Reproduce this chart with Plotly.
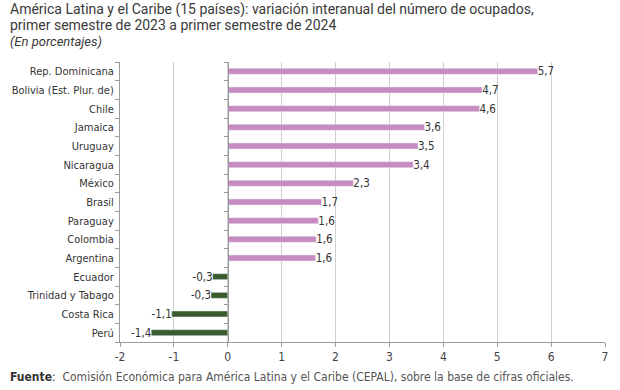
import plotly.graph_objects as go

countries = ["Rep. Dominicana", "Bolivia (Est. Plur. de)", "Chile", "Jamaica", "Uruguay",
             "Nicaragua", "México", "Brasil", "Paraguay", "Colombia", "Argentina",
             "Ecuador", "Trinidad y Tabago", "Costa Rica", "Perú"]
values = [5.75, 4.72, 4.67, 3.65, 3.53, 3.44, 2.33, 1.74, 1.68, 1.64, 1.63,
          -0.28, -0.31, -1.04, -1.42]
value_labels = ["5,7", "4,7", "4,6", "3,6", "3,5", "3,4", "2,3", "1,7", "1,6", "1,6", "1,6",
                "-0,3", "-0,3", "-1,1", "-1,4"]
x_ticks = [-2, -1, 0, 1, 2, 3, 4, 5, 6, 7]

PINK = "#c98ac1"
GREEN = "#3b5a2d"
colors = [PINK if v >= 0 else GREEN for v in values]

W, H = 620, 390
L, R, T, B = 120, 15, 62, 48
PW, PH = W - L - R, H - T - B

def px_x(px):
    return (px - L) / PW

def px_y(py):
    return (H - B - py) / PH

COND = "Liberation Sans Narrow, DejaVu Sans Condensed, sans-serif"
TITLEF = "Liberation Sans Narrow, Roboto, sans-serif"

fig = go.Figure()
fig.add_trace(go.Bar(
    y=countries, x=values, orientation="h",
    marker=dict(color=colors, line=dict(width=0)),
    width=0.32,
    text=value_labels, textposition="outside", cliponaxis=False,
    constraintext="none",
    textfont=dict(family=COND, size=11.5, color="#333333"),
    hoverinfo="skip",
))
# invisible trace to carry the zero-line axis with its boundary ticks
fig.add_trace(go.Bar(
    y=countries, x=values, orientation="h", yaxis="y2",
    marker=dict(color="rgba(0,0,0,0)"), width=0.32, hoverinfo="skip", showlegend=False,
))

xmin, xmax = -2, 7
fig.update_layout(
    width=W, height=H,
    margin=dict(l=L, r=R, t=T, b=B, autoexpand=False),
    paper_bgcolor="white", plot_bgcolor="white",
    showlegend=False, barmode="overlay",
    xaxis=dict(
        range=[xmin, xmax], tickvals=x_ticks, ticktext=[str(t) for t in x_ticks],
        showgrid=True, gridcolor="#cfcfcf", gridwidth=1,
        zeroline=False, showline=True, linecolor="#9a9a9a", linewidth=1,
        ticks="outside", ticklen=4, tickcolor="#9a9a9a",
        tickfont=dict(family=COND, size=12, color="#444444"),
        fixedrange=True,
    ),
    yaxis=dict(
        categoryorder="array", categoryarray=countries[::-1],
        range=[-0.5, len(countries) - 0.5],
        showline=True, linecolor="#9a9a9a", linewidth=1,
        ticks="outside", ticklen=4, tickcolor="#9a9a9a", tickson="boundaries",
        showgrid=False, zeroline=False,
        tickfont=dict(family=COND, size=11, color="#333333"),
        ticklabelstandoff=3,
    ),
    yaxis2=dict(
        overlaying="y", matches="y", anchor="free",
        position=(0 - xmin) / (xmax - xmin),
        showline=True, linecolor="#9a9a9a", linewidth=1,
        ticks="outside", ticklen=4, tickcolor="#9a9a9a", tickson="boundaries",
        showticklabels=False, showgrid=False, zeroline=False,
        categoryorder="array", categoryarray=countries[::-1],
    ),
)

fig.add_annotation(
    text="América Latina y el Caribe (15 países): variación interanual del número de ocupados,",
    xref="paper", yref="paper", x=px_x(8), y=px_y(9), xanchor="left", yanchor="middle",
    showarrow=False, font=dict(family=TITLEF, size=14, color="#3a3a3a"),
)
fig.add_annotation(
    text="primer semestre de 2023 a primer semestre de 2024",
    xref="paper", yref="paper", x=px_x(8), y=px_y(25), xanchor="left", yanchor="middle",
    showarrow=False, font=dict(family=TITLEF, size=14, color="#3a3a3a"),
)
fig.add_annotation(
    text="<i>(En porcentajes)</i>",
    xref="paper", yref="paper", x=px_x(8), y=px_y(41), xanchor="left", yanchor="middle",
    showarrow=False, font=dict(family=TITLEF, size=13, color="#3a3a3a"),
)
fig.add_annotation(
    text="<b>Fuente</b>:  <span style='color:#555555'>Comisión Económica para América Latina y el Caribe (CEPAL), sobre la base de cifras oficiales.</span>",
    xref="paper", yref="paper", x=px_x(8), y=px_y(377), xanchor="left", yanchor="middle",
    showarrow=False, font=dict(family=COND, size=12, color="#333333"),
)

fig.write_html("out.html", config={"displayModeBar": False},
               post_script="document.body.style.margin='0';")
